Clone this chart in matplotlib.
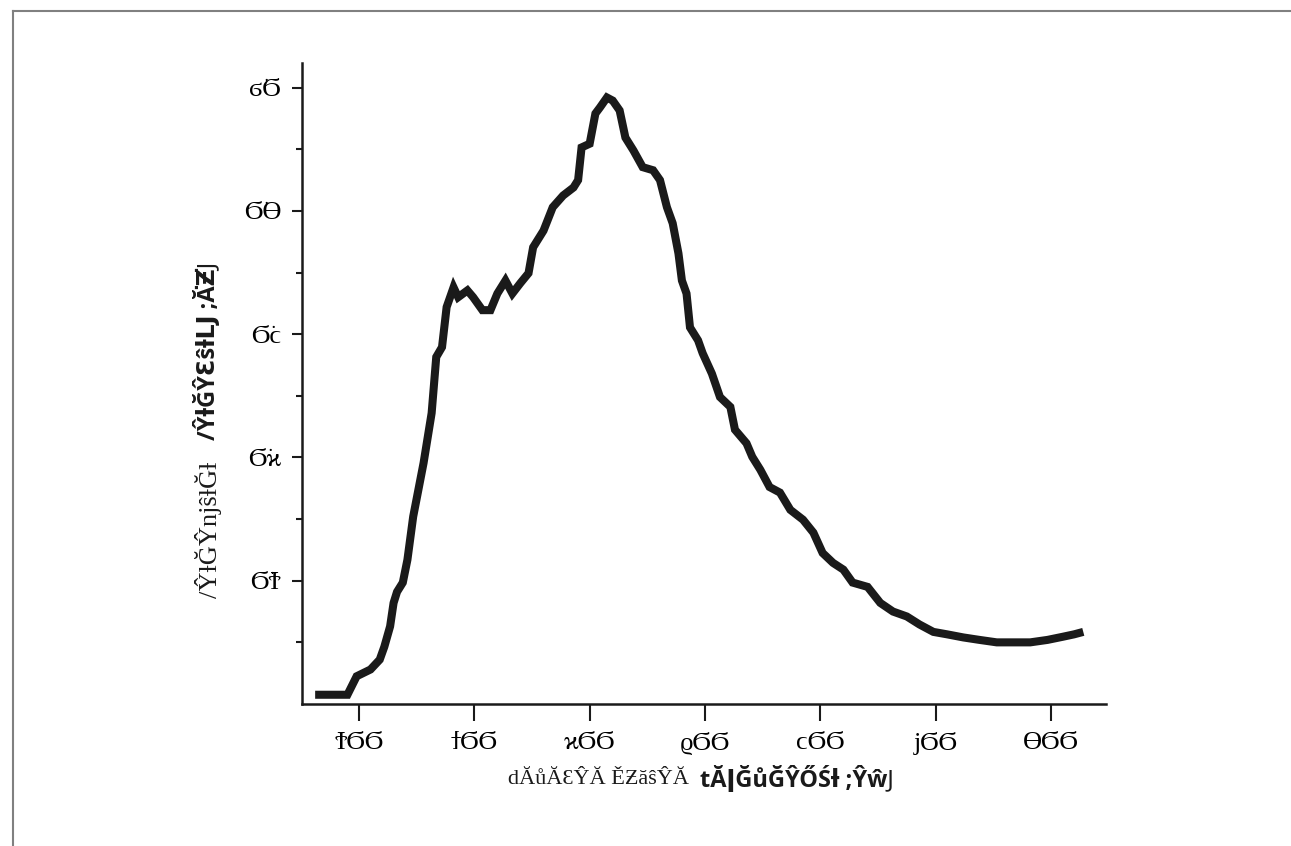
import numpy as np
import matplotlib
matplotlib.use('Agg')
import matplotlib.pyplot as plt
from matplotlib.ticker import FixedLocator

# 読み取ったスペクトル（波長 [nm], 強度 [a.u.]）
wavelength = [162, 175, 190, 198, 210, 218, 222, 227, 230, 233, 238, 242,
              247, 256, 263, 267, 272, 276, 282, 286, 294, 299, 307, 314,
              320, 327, 333, 340, 347, 351, 360, 368, 377, 386, 390, 393,
              400, 405, 409, 415, 420, 426, 431, 438, 446, 455, 461, 467,
              472, 477, 480, 484, 487, 494, 498, 506, 513, 522, 526, 536,
              541, 548, 556, 565, 574, 585, 594, 602, 611, 620, 628, 641,
              652, 663, 675, 686, 698, 710, 724, 738, 753, 767, 782, 797,
              810, 820, 828]
intensity = [0.015, 0.015, 0.015, 0.045, 0.056, 0.072, 0.093, 0.126, 0.164, 0.182, 0.197, 0.234,
             0.304, 0.391, 0.472, 0.563, 0.579, 0.644, 0.676, 0.660, 0.671, 0.660, 0.639, 0.639,
             0.666, 0.687, 0.666, 0.683, 0.699, 0.741, 0.768, 0.806, 0.825, 0.838, 0.850, 0.903,
             0.909, 0.958, 0.968, 0.984, 0.979, 0.963, 0.919, 0.898, 0.871, 0.866, 0.850, 0.806,
             0.780, 0.731, 0.687, 0.666, 0.611, 0.590, 0.569, 0.536, 0.498, 0.482, 0.445, 0.423,
             0.401, 0.380, 0.352, 0.343, 0.315, 0.299, 0.278, 0.245, 0.229, 0.218, 0.197, 0.190,
             0.164, 0.150, 0.142, 0.129, 0.117, 0.113, 0.108, 0.104, 0.100, 0.100, 0.100, 0.104,
             0.109, 0.113, 0.117]

x_ticks = [200, 300, 400, 500, 600, 700, 800]
x_ticklabels = ['ϮϬϬ', 'ϯϬϬ', 'ϰϬϬ', 'ϱϬϬ', 'ϲϬϬ', 'ϳϬϬ', 'ϴϬϬ']
y_ticks = [0.2, 0.4, 0.6, 0.8, 1.0]
y_ticklabels = ['Ϭ͘Ϯ', 'Ϭ͘ϰ', 'Ϭ͘ϲ', 'Ϭ͘ϴ', 'ϭ͘Ϭ']

xlabel_serif = 'dĂůĂƐŶĂ ĚƵăŝŶĂ'
xlabel_bold = 'tĂǀĞůĞŶŐŚƚ ;ŶŵͿ'
ylabel_serif = '/ŶƚĞŶnjŝƚĞƚ'
ylabel_bold = '/ŶƚĞŶƐŝƚǇ ;Ă͘Ƶ͘Ϳ'

serif = ['Liberation Serif', 'DejaVu Serif', 'DejaVu Sans', 'Noto Sans']
sans = ['Open Sans', 'DejaVu Sans', 'Noto Sans']

W, H = 1291, 846
fig = plt.figure(figsize=(W / 100, H / 100), dpi=100)
ax = fig.add_axes([302 / W, 1 - 704 / H, (1106 - 302) / W, (704 - 63) / H])

ax.plot(wavelength, intensity, color='#1a1a1a', linewidth=5.8,
        solid_joinstyle='miter', solid_capstyle='butt')

ax.set_xlim(150.6, 847.7)
ax.set_ylim(0, 1.04)

for s in ['top', 'right']:
    ax.spines[s].set_visible(False)
for s in ['left', 'bottom']:
    ax.spines[s].set_linewidth(1.8)
    ax.spines[s].set_color('#1a1a1a')

ax.xaxis.set_major_locator(FixedLocator(x_ticks))
ax.set_xticklabels(x_ticklabels, fontfamily=serif, fontsize=19)
ax.yaxis.set_major_locator(FixedLocator(y_ticks))
ax.set_yticklabels(y_ticklabels, fontfamily=serif, fontsize=19)
ax.yaxis.set_minor_locator(FixedLocator([0.1, 0.3, 0.5, 0.7, 0.9]))

ax.tick_params(axis='x', which='major', direction='out', length=12, width=1.5,
               color='#1a1a1a', pad=8)
ax.tick_params(axis='y', which='major', direction='out', length=7, width=1.5,
               color='#1a1a1a', pad=8)
ax.tick_params(axis='y', which='minor', direction='out', length=4.5, width=1.5,
               color='#1a1a1a')

# 軸ラベル（セリフ体＋太字の2つの部分）
fig.text(689 / W, 1 - 779 / H, xlabel_serif, ha='right', va='center',
         fontfamily=serif, fontsize=16, color='#1a1a1a')
fig.text(700 / W, 1 - 779 / H, xlabel_bold, ha='left', va='center',
         fontfamily=sans, fontweight='bold', fontsize=17, color='#1a1a1a')
fig.text(208 / W, 1 - 598 / H, ylabel_serif, ha='center', va='bottom', rotation=90,
         fontfamily=serif, fontsize=19, color='#1a1a1a')
fig.text(208 / W, 1 - 440 / H, ylabel_bold, ha='center', va='bottom', rotation=90,
         fontfamily=sans, fontweight='bold', fontsize=17, color='#1a1a1a')

# 枠線（上と左）
fig.add_artist(plt.Line2D([13 / W, 1], [1 - 11 / H, 1 - 11 / H], transform=fig.transFigure,
                          color='#808080', linewidth=1.5))
fig.add_artist(plt.Line2D([13 / W, 13 / W], [0, 1 - 11 / H], transform=fig.transFigure,
                          color='#808080', linewidth=1.5))

fig.savefig('out.png', dpi=100)
